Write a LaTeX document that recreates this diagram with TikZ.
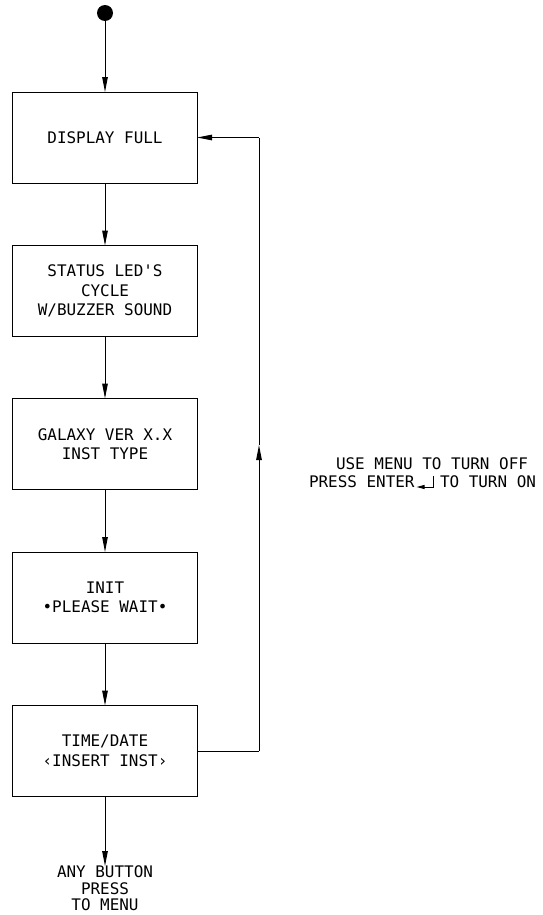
\documentclass[tikz,border=0pt]{standalone}
\usepackage{fontspec}
\newfontfamily\cadfont{DejaVu Sans Mono}
\usetikzlibrary{arrows.meta}
\begin{document}
\begin{tikzpicture}[x=1bp,y=-1bp,
  every node/.style={inner sep=0pt, outer sep=0pt},
  cadtext/.style={font=\cadfont\fontsize{16}{19.5}\selectfont, align=center},
  stepbox/.style={cadtext, draw, line width=1bp, minimum width=184bp, minimum height=91bp},
  flow/.style={line width=1bp, -{Triangle[length=15bp,width=5.5bp]}},
  wire/.style={line width=1bp}]
\useasboundingbox (0,0) rectangle (543,915);

% start point
\node[circle, fill, minimum size=16bp] (start) at (105,13) {};

% sequence of display states
\node[stepbox] (b1) at (105,137.5) {DISPLAY FULL};
\node[stepbox] (b2) at (105,291) {STATUS LED{\char"0027}S\\CYCLE\\W/BUZZER SOUND};
\node[stepbox] (b3) at (105,444) {GALAXY VER X.X\\INST TYPE};
\node[stepbox] (b4) at (105,597.5) {INIT\\•PLEASE WAIT•};
\node[stepbox] (b5) at (105,751) {TIME/DATE\\‹INSERT INST›};
\node[cadtext, font=\cadfont\fontsize{16}{16.5}\selectfont, anchor=north] (menu) at (105,866) {ANY BUTTON\\PRESS\\TO MENU};

% main flow
\draw[flow] (start) -- (b1);
\draw[flow] (b1) -- (b2);
\draw[flow] (b2) -- (b3);
\draw[flow] (b3) -- (b4);
\draw[flow] (b4) -- (b5);
\draw[flow] (b5) -- (menu);

% return loop
\coordinate (lb) at (259,751);
\coordinate (lm) at (259,445);
\coordinate (lt) at (259,137.5);
\draw[wire] (b5.east) -- (lb);
\draw[flow] (lb) -- (lm);
\draw[wire] (lm) -- (lt);
\draw[flow] (lt) -- (b1.east);

% note beside the loop
\node[cadtext, anchor=base] (off) at (432,469) {USE MENU TO TURN OFF};
\node[cadtext, anchor=base west] (pe) at (309,487) {PRESS ENTER};
\node[cadtext, anchor=base west] (on) at (440,487) {TO TURN ON};
\coordinate (ek) at ([xshift=19bp]pe.base east);
\draw[line width=1bp, -{Triangle[length=8bp,width=4bp]}]
  ([yshift=11bp]ek) -- (ek) -- ([xshift=2bp]pe.base east);
\end{tikzpicture}
\end{document}
